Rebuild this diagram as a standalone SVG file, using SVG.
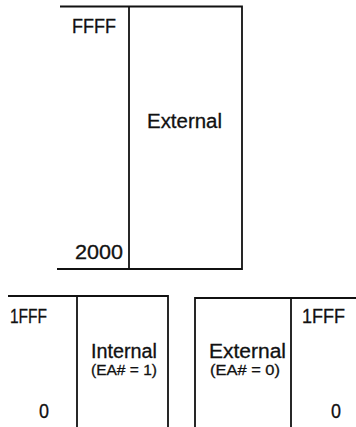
<svg xmlns="http://www.w3.org/2000/svg" width="356" height="427" viewBox="0 0 356 427">
<style>
.ln{stroke:#111;stroke-width:1.8;fill:none}
.t{font-family:"Liberation Sans",Arial,sans-serif;fill:#111;stroke:#111;stroke-width:0.3}
.a{font-size:19.5px}
.s{font-size:15px}
</style>
<rect width="356" height="427" fill="#fff"/>
<g id="connectors">
<path class="ln" d="M60 6.5H242V269H57"/>
<path class="ln" d="M129 6.5V269"/>
<path class="ln" d="M8 296H168V427"/>
<path class="ln" d="M77 296V427"/>
<path class="ln" d="M195 427V298H356"/>
<path class="ln" d="M291 298V427"/>
</g>
<g id="upper-external">
<text class="t a" x="72" y="33" textLength="44" lengthAdjust="spacingAndGlyphs">FFFF</text>
<text class="t a" x="147" y="128" textLength="75" lengthAdjust="spacingAndGlyphs">External</text>
<text class="t a" x="75" y="259" textLength="48" lengthAdjust="spacingAndGlyphs">2000</text>
</g>
<g id="internal">
<text class="t a" x="10" y="323" textLength="37" lengthAdjust="spacingAndGlyphs">1FFF</text>
<text class="t a" x="91" y="358" textLength="66" lengthAdjust="spacingAndGlyphs">Internal</text>
<text class="t s" x="91" y="375" textLength="66" lengthAdjust="spacingAndGlyphs">(EA# = 1)</text>
<text class="t a" x="39" y="418" textLength="10" lengthAdjust="spacingAndGlyphs">0</text>
</g>
<g id="lower-external">
<text class="t a" x="302" y="323" textLength="43" lengthAdjust="spacingAndGlyphs">1FFF</text>
<text class="t a" x="209" y="358" textLength="77" lengthAdjust="spacingAndGlyphs">External</text>
<text class="t s" x="210" y="375" textLength="70" lengthAdjust="spacingAndGlyphs">(EA# = 0)</text>
<text class="t a" x="331" y="418" textLength="10" lengthAdjust="spacingAndGlyphs">0</text>
</g>
</svg>
